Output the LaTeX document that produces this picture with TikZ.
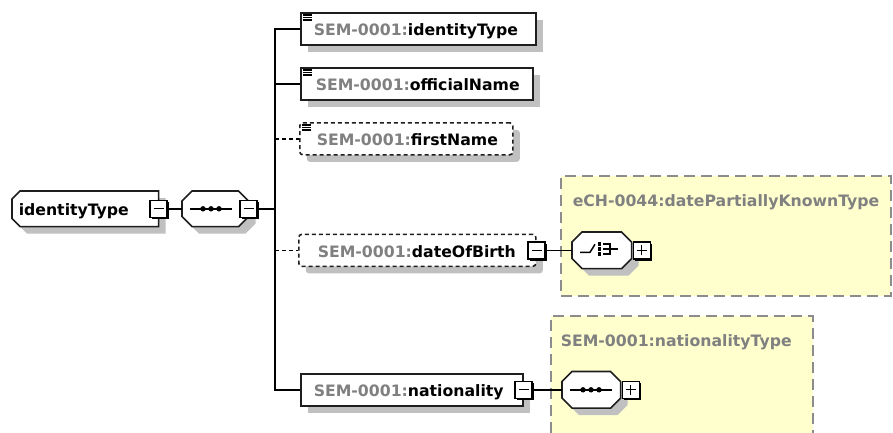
\documentclass[tikz,border=0pt]{standalone}
\usepackage{fontspec}
\setmainfont{DejaVu Sans}
\usetikzlibrary{shadows}
\definecolor{pfx}{RGB}{128,128,128}
\definecolor{yel}{RGB}{255,255,206}
\definecolor{ybd}{RGB}{140,140,140}
\definecolor{shd}{RGB}{192,192,192}
\definecolor{bdr}{RGB}{30,30,30}
% text of an element box: width, left pad, local name
\newcommand\etx[3]{\hbox to #1pt{\hspace{#2pt}{\color{pfx}SEM-0001:}#3\hss}}
% chamfered outline: node, left chamfer, right chamfer, shift, style
\newcommand\chamf[5]{%
  \path[#5] ([xshift=#2+#4,yshift=-#4]#1.north west) -- ([xshift=-#3+#4,yshift=-#4]#1.north east)
   -- ([xshift=#4,yshift=-#3-#4]#1.north east) -- ([xshift=#4,yshift=#3-#4]#1.south east)
   -- ([xshift=-#3+#4,yshift=-#4]#1.south east) -- ([xshift=#2+#4,yshift=-#4]#1.south west)
   -- ([xshift=#4,yshift=#2-#4]#1.south west) -- ([xshift=#4,yshift=-#2-#4]#1.north west) -- cycle;}
\newcommand\seqicon[1]{%
  \draw[line width=1.5pt] ([xshift=8pt]#1.west) -- ([xshift=50pt]#1.west);
  \foreach \dd in {21,29,37} \fill ([xshift=\dd pt]#1.west) circle (2.7pt);}
\newcommand\listicon[1]{%
  \foreach \yy in {3,5.5,8} \draw[line width=1.2pt] ([xshift=3pt,yshift=-\yy pt]#1.north west) -- ([xshift=12pt,yshift=-\yy pt]#1.north west);}
\newcommand\choiceicon[1]{%
  \draw[line width=1.5pt,line join=round] ([xshift=8pt,yshift=-2pt]#1.west) -- ([xshift=18pt,yshift=-2pt]#1.west) -- ([xshift=23pt,yshift=6pt]#1.west);
  \foreach \yy in {6.5,1.5,-3.5} \fill ([xshift=25.5pt,yshift=\yy pt-1.7pt]#1.west) rectangle ([xshift=28.8pt,yshift=\yy pt+1.7pt]#1.west);
  \draw[line width=1.5pt] ([xshift=31pt,yshift=6.5pt]#1.west) -- ([xshift=38pt,yshift=6.5pt]#1.west) -- ([xshift=38pt,yshift=-3.5pt]#1.west) -- ([xshift=31pt,yshift=-3.5pt]#1.west);
  \draw[line width=1.5pt] ([xshift=31pt,yshift=1.5pt]#1.west) -- ([xshift=46pt,yshift=1.5pt]#1.west);}
\begin{document}
\begin{tikzpicture}[x=1pt,y=-1pt,line width=1.6pt,
  font=\bfseries\fontsize{15.7}{19}\selectfont,
  elem/.style={draw=bdr, fill=white, line width=1.6pt, inner sep=0pt, minimum height=32pt,
    text height=13.5pt, text depth=0pt, anchor=north west,
    drop shadow={shadow xshift=7pt, shadow yshift=-7pt, fill=shd, opacity=1}},
  opt/.style={elem, dash pattern=on 4pt off 3pt, rounded corners=3pt},
  mbox/.style={draw=black, fill=white, line width=1.4pt, minimum size=17pt, inner sep=0pt,
    drop shadow={shadow xshift=2pt, shadow yshift=-2pt, fill=black, opacity=1},
    path picture={\draw[line width=1.3pt] ([xshift=-5pt]path picture bounding box.center) -- ([xshift=5pt]path picture bounding box.center);}},
  pbox/.style={mbox, anchor=west,
    path picture={\draw[line width=1.3pt] ([xshift=-5pt]path picture bounding box.center) -- ([xshift=5pt]path picture bounding box.center);
      \draw[line width=1.3pt] ([yshift=-5pt]path picture bounding box.center) -- ([yshift=5pt]path picture bounding box.center);}},
  octo/.style={inner sep=0pt, anchor=north west},
  ybox/.style={draw=ybd, fill=yel, line width=1.6pt, dash pattern=on 11pt off 6pt, inner sep=0pt, anchor=north west},
  ttl/.style={anchor=base west, text=pfx, inner sep=0pt},
  link/.style={draw=black, line width=1.6pt},
  optlink/.style={link, dash pattern=on 4pt off 3pt}]
\useasboundingbox (0,0) rectangle (893,432);
\clip (0,0) rectangle (893,432);
\fill[white] (0,0) rectangle (893,432);
% type boxes
\node[ybox, minimum width=330pt, minimum height=120pt] (t1) at (560,175) {};
\node[ybox, minimum width=262pt, minimum height=135pt] (t2) at (550,315) {};
\node[ttl] (t1t) at (572,206) {eCH-0044:datePartiallyKnownType};
\node[ttl] (t2t) at (560,346) {SEM-0001:nationalityType};
% root
\path node[octo, minimum width=145pt, minimum height=34pt] (root) at (12,191) {};
\chamf{root}{8}{0}{7}{fill=shd}
\chamf{root}{8}{0}{0}{draw=bdr,fill=white}
\node[inner sep=0pt, text height=13.5pt, text depth=0pt] (rootlbl) at (root.center) {\hbox to 145pt{\hspace{6pt}identityType\hss}};
\node[mbox] (rm) at (root.east) {};
% sequence
\path node[octo, minimum width=65pt, minimum height=34pt] (s1) at (182,191) {};
\chamf{s1}{10}{10}{7}{fill=shd}
\chamf{s1}{10}{10}{0}{draw=bdr,fill=white}
\seqicon{s1}
\node[mbox] (sm) at (s1.east) {};
% elements
\node[elem, minimum width=235pt] (e1) at (300,12) {\etx{235}{13}{identityType}};
\listicon{e1}
\node[elem, minimum width=232pt] (e2) at (300,67) {\etx{232}{15}{officialName}};
\listicon{e2}
\node[opt, minimum width=213pt] (e3) at (299,122) {\etx{213}{17}{firstName}};
\listicon{e3}
\node[opt, minimum width=237pt] (e4) at (298,233.5) {\etx{237}{19}{dateOfBirth}};
\node[mbox] (m4) at (e4.east) {};
\node[elem, minimum width=222pt] (e5) at (300,373) {\etx{222}{13}{nationality}};
\node[mbox] (m5) at (e5.east) {};
% choice in datePartiallyKnownType
\path node[octo, minimum width=58pt, minimum height=35pt] (c1) at (572,232) {};
\chamf{c1}{10}{10}{7}{fill=shd}
\chamf{c1}{10}{10}{0}{draw=bdr,fill=white}
\choiceicon{c1}
\node[pbox] (cp) at ([xshift=1pt]c1.east) {};
% sequence in nationalityType
\path node[octo, minimum width=57pt, minimum height=35pt] (q2) at (562,371.5) {};
\chamf{q2}{10}{10}{7}{fill=shd}
\chamf{q2}{10}{10}{0}{draw=bdr,fill=white}
\seqicon{q2}
\node[pbox] (qp) at ([xshift=1pt]q2.east) {};
% connectors
\coordinate (bus) at (275,0);
\draw[link] (rm.east) -- (s1.west);
\draw[link] (sm.east) -- (sm.east -| bus);
\draw[link] (e1.west) -- (e1.west -| bus) -- (e5.west -| bus) -- (e5.west);
\draw[link] (e2.west) -- (e2.west -| bus);
\draw[optlink] (e3.west -| bus) -- (e3.west);
\draw[optlink] (e4.west -| bus) -- (e4.west);
\draw[link] (m4.east) -- (c1.west);
\draw[link] (m5.east) -- (q2.west);
\end{tikzpicture}
\end{document}
